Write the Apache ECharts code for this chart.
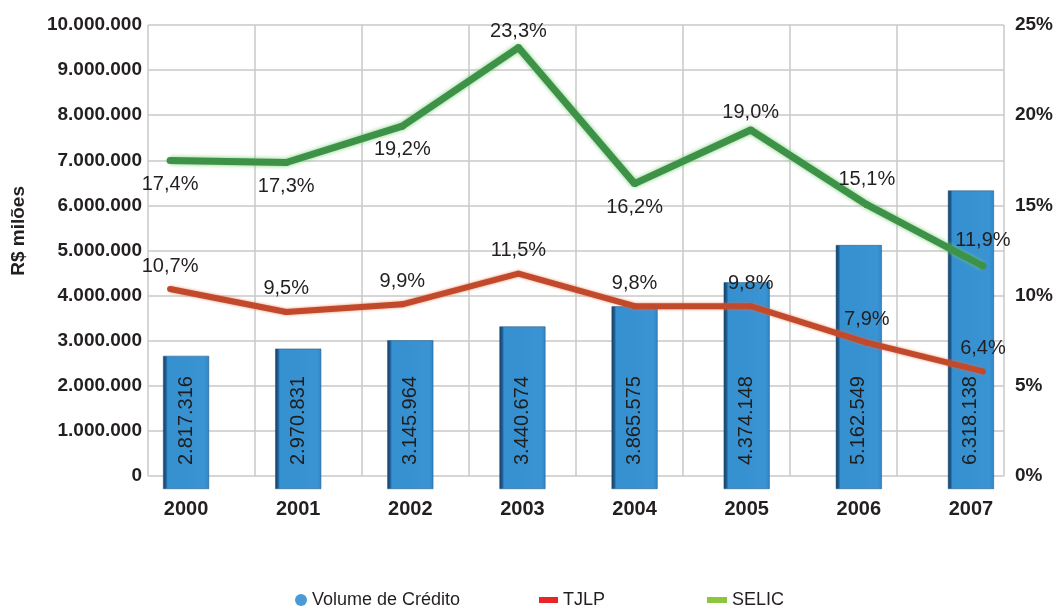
<!DOCTYPE html>
<html><head><meta charset="utf-8">
<script src="https://cdn.jsdelivr.net/npm/echarts@6/dist/echarts.min.js"></script>
<style>html,body{margin:0;padding:0;background:#fff}#c{width:1056px;height:606px}</style>
</head><body><div id="c"></div>
<script>
const years = ['2000','2001','2002','2003','2004','2005','2006','2007'];
const volume = [2817316, 2970831, 3145964, 3440674, 3865575, 4374148, 5162549, 6318138];
const tjlp = [10.7, 9.5, 9.9, 11.5, 9.8, 9.8, 7.9, 6.4];
const selic = [17.4, 17.3, 19.2, 23.3, 16.2, 19.0, 15.1, 11.9];
const leftTicks = [0, 10000000];
const rightTicks = [0, 25];
const selicLabelPos = ['bottom','bottom','bottom','top','bottom','top','top','top'];
const selicLabelDist = [10, 10, 10, 3, 10, 4, 12, 12];

const fmt = n => String(n).replace(/\B(?=(\d{3})+(?!\d))/g, '.');
const pct = v => v.toFixed(1).replace('.', ',') + '%';
const FONT = 'Liberation Sans, Arial, sans-serif';
const chart = echarts.init(document.getElementById('c'));
const axisBold = {fontFamily: FONT, fontWeight: 'bold', fontSize: 19, color: '#231f20'};

chart.setOption({
  animation: false,
  backgroundColor: '#fff',
  grid: [
    {left: 148, right: 51, top: 25, bottom: 130},
    {left: 130, right: 29, top: 16.5, bottom: 117},
    {left: 112, right: 15, top: 15, bottom: 112}
  ],
  xAxis: [
    {type: 'value', gridIndex: 0, min: 0, max: 8, interval: 1,
     axisLabel: {show: false}, axisTick: {show: false}, axisLine: {show: false},
     splitLine: {show: true, lineStyle: {color: '#c9c9c9', width: 1.5}}},
    {type: 'category', gridIndex: 1, data: years,
     axisLabel: Object.assign({margin: 10}, axisBold, {fontSize: 20}),
     axisTick: {show: false}, axisLine: {show: false}},
    {type: 'category', gridIndex: 2, data: years, show: false}
  ],
  yAxis: [
    {type: 'value', gridIndex: 0, min: leftTicks[0], max: leftTicks[1], interval: 1000000,
     axisLabel: Object.assign({margin: 6, formatter: v => fmt(v)}, axisBold),
     axisLine: {show: false}, axisTick: {show: false},
     splitLine: {show: true, lineStyle: {color: '#c9c9c9', width: 1.5}}},
    {type: 'value', gridIndex: 0, position: 'right', min: rightTicks[0], max: rightTicks[1], interval: 5,
     axisLabel: Object.assign({margin: 11, formatter: v => v + '%'}, axisBold),
     axisLine: {show: false}, axisTick: {show: false}, splitLine: {show: false}},
    {type: 'value', gridIndex: 1, min: leftTicks[0], max: leftTicks[1], show: false, splitLine: {show: false}},
    {type: 'value', gridIndex: 2, min: rightTicks[0], max: rightTicks[1], show: false, splitLine: {show: false}}
  ],
  graphic: [{
    type: 'text', left: 9, top: 186, rotation: Math.PI / 2,
    style: {text: 'R$ milões', fontFamily: FONT, fontWeight: 'bold', fontSize: 19, fill: '#231f20'}
  }],
  legend: [
    {left: 290, top: 586, itemWidth: 12, itemHeight: 12, icon: 'circle', itemGap: 4,
     textStyle: {fontFamily: FONT, fontSize: 18, color: '#231f20'},
     data: [{name: 'Volume de Crédito', itemStyle: {color: '#4a9ad8', borderWidth: 0}}]},
    {left: 534, top: 586, itemWidth: 19, itemHeight: 6, icon: 'rect',
     textStyle: {fontFamily: FONT, fontSize: 18, color: '#231f20'},
     data: [{name: 'TJLP', itemStyle: {color: '#e8262a', borderWidth: 0}}]},
    {left: 702, top: 586, itemWidth: 20, itemHeight: 6, icon: 'rect',
     textStyle: {fontFamily: FONT, fontSize: 18, color: '#231f20'},
     data: [{name: 'SELIC', itemStyle: {color: '#8cc63f', borderWidth: 0}}]}
  ],
  series: [
    {name: 'Volume de Crédito', type: 'bar', xAxisIndex: 1, yAxisIndex: 2, data: volume,
     barWidth: 46, z: 2,
     itemStyle: {
       color: new echarts.graphic.LinearGradient(0, 0, 1, 0, [
         {offset: 0, color: '#163f66'}, {offset: 0.06, color: '#1f5a8e'},
         {offset: 0.1, color: '#3590d0'}, {offset: 0.9, color: '#3a93d3'}, {offset: 1, color: '#3186c6'}]),
       borderColor: '#1f4f78', borderWidth: 0.5
     },
     label: {show: true, position: 'insideBottom', rotate: 90, align: 'left', verticalAlign: 'middle',
       distance: 24, formatter: p => fmt(p.value),
       fontFamily: FONT, fontSize: 20, color: '#1e1e1e'}},
    {name: 'TJLP', type: 'line', xAxisIndex: 2, yAxisIndex: 3, data: tjlp, z: 5,
     symbol: 'circle', symbolSize: 6, itemStyle: {color: '#c4462c'},
     lineStyle: {color: '#c24a2c', width: 6, shadowColor: 'rgba(230,110,70,0.8)', shadowBlur: 3},
     label: {show: true, position: 'top', distance: 10, formatter: p => pct(p.value),
       fontFamily: FONT, fontSize: 20, color: '#231f20'}},
    {name: 'SELIC', type: 'line', xAxisIndex: 2, yAxisIndex: 3, z: 6,
     data: selic.map((v, i) => ({value: v, label: {position: selicLabelPos[i], distance: selicLabelDist[i]}})),
     symbol: 'circle', symbolSize: 7, itemStyle: {color: '#3d9247'},
     lineStyle: {color: '#3d9247', width: 7, shadowColor: 'rgba(110,200,110,0.9)', shadowBlur: 4},
     label: {show: true, distance: 10, formatter: p => pct(p.value),
       fontFamily: FONT, fontSize: 20, color: '#231f20'}}
  ]
});
</script></body></html>
